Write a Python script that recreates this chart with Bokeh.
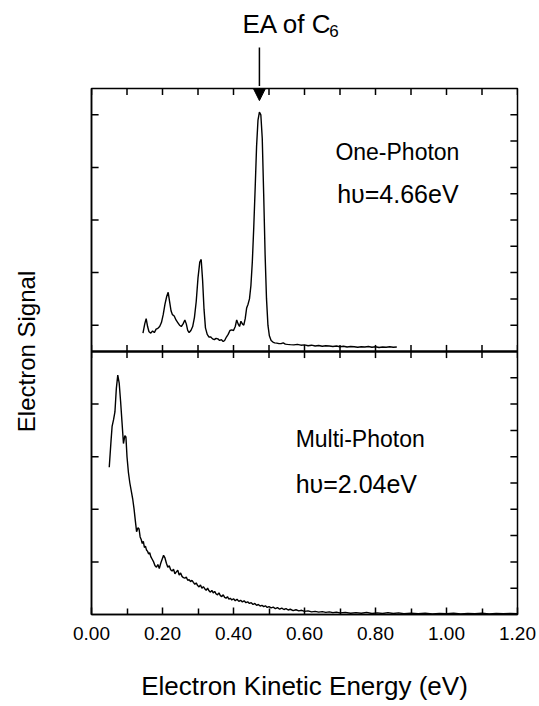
from bokeh.plotting import figure
from bokeh.layouts import column
from bokeh.models import (Range1d, FixedTicker, Span, Label, Arrow, NormalHead)
from bokeh.embed import file_html
from bokeh.resources import INLINE

# ---------------- data ----------------
# One-Photon spectrum (hv = 4.66 eV): kinetic energy (eV), signal (arb.)
one_e = [0.145, 0.150, 0.154, 0.158, 0.162, 0.167, 0.172, 0.177, 0.182, 0.187,
         0.192, 0.197, 0.202, 0.207, 0.212, 0.216, 0.220, 0.224, 0.228, 0.233,
         0.238, 0.243, 0.248, 0.253, 0.258, 0.263, 0.267, 0.271, 0.275, 0.280,
         0.285, 0.290, 0.295, 0.300, 0.305, 0.309, 0.313, 0.317, 0.321, 0.326,
         0.331, 0.336, 0.341, 0.346, 0.351, 0.356, 0.361, 0.366, 0.371, 0.375,
         0.380, 0.385, 0.390, 0.395, 0.400, 0.405, 0.409, 0.413, 0.417, 0.421,
         0.425, 0.429, 0.433, 0.437, 0.441, 0.445, 0.449, 0.453, 0.457, 0.461,
         0.465, 0.469, 0.473, 0.477, 0.481, 0.485, 0.489, 0.493, 0.497, 0.501,
         0.506, 0.511, 0.516, 0.522, 0.528, 0.534, 0.540, 0.546, 0.552, 0.560,
         0.570, 0.580, 0.590, 0.600, 0.610, 0.620, 0.630, 0.640, 0.650, 0.660,
         0.670, 0.680, 0.690, 0.700, 0.710, 0.720, 0.730, 0.740, 0.750, 0.760,
         0.770, 0.780, 0.790, 0.800, 0.810, 0.820, 0.830, 0.840, 0.850, 0.860]
one_sig = [0.70, 1.05, 1.25, 0.95, 0.75, 0.70, 0.78, 0.72, 0.85, 0.88,
           0.95, 1.10, 1.40, 1.80, 2.10, 2.25, 1.90, 1.55, 1.40, 1.35,
           1.20, 1.10, 1.00, 0.95, 1.05, 1.20, 1.05, 0.80, 0.72, 0.80,
           0.95, 1.30, 1.90, 2.80, 3.40, 3.50, 2.70, 1.60, 0.90, 0.65,
           0.55, 0.55, 0.48, 0.45, 0.50, 0.48, 0.42, 0.45, 0.38, 0.42,
           0.55, 0.65, 0.80, 0.82, 0.80, 0.95, 1.20, 1.05, 0.95, 1.15,
           1.05, 1.00, 1.25, 1.65, 1.80, 2.00, 2.50, 3.40, 4.70, 6.20,
           7.80, 8.80, 9.10, 9.00, 8.10, 6.00, 3.70, 2.00, 1.00, 0.60,
           0.42, 0.36, 0.33, 0.32, 0.30, 0.30, 0.33, 0.28, 0.27, 0.26,
           0.25, 0.27, 0.24, 0.25, 0.22, 0.24, 0.21, 0.23, 0.20, 0.22,
           0.21, 0.19, 0.21, 0.18, 0.20, 0.17, 0.19, 0.18, 0.16, 0.18,
           0.17, 0.19, 0.16, 0.18, 0.15, 0.17, 0.16, 0.18, 0.16, 0.17]

# Multi-Photon spectrum (hv = 2.04 eV)
multi_e = [0.050, 0.055, 0.058, 0.062, 0.066, 0.070, 0.074, 0.078, 0.082, 0.086,
           0.090, 0.094, 0.097, 0.100, 0.104, 0.108, 0.112, 0.116, 0.120, 0.124,
           0.127, 0.131, 0.134, 0.137, 0.140, 0.143, 0.146, 0.149, 0.152, 0.155,
           0.158, 0.161, 0.164, 0.167, 0.171, 0.175, 0.179, 0.183, 0.187, 0.191,
           0.195, 0.199, 0.203, 0.207, 0.211, 0.215, 0.219, 0.223, 0.227, 0.231,
           0.235, 0.239, 0.243, 0.247, 0.251, 0.255, 0.259, 0.263, 0.267, 0.271,
           0.275, 0.279, 0.283, 0.287, 0.291, 0.295, 0.299, 0.303, 0.307, 0.311,
           0.315, 0.319, 0.323, 0.327, 0.331, 0.335, 0.339, 0.343, 0.347, 0.351,
           0.355, 0.359, 0.363, 0.367, 0.371, 0.375, 0.379, 0.383, 0.387, 0.391,
           0.395, 0.400, 0.405, 0.410, 0.415, 0.420, 0.425, 0.430, 0.435, 0.440,
           0.445, 0.450, 0.455, 0.460, 0.465, 0.470, 0.475, 0.480, 0.485, 0.490,
           0.495, 0.500, 0.506, 0.512, 0.518, 0.524, 0.530, 0.536, 0.542, 0.548,
           0.554, 0.560, 0.568, 0.576, 0.584, 0.592, 0.600, 0.610, 0.620, 0.630,
           0.640, 0.650, 0.660, 0.670, 0.680, 0.690, 0.700, 0.715, 0.730, 0.745,
           0.760, 0.775, 0.790, 0.805, 0.820, 0.835, 0.850, 0.865, 0.880, 0.900,
           0.920, 0.940, 0.960, 0.980, 1.000, 1.020, 1.040, 1.060, 1.080, 1.100,
           1.120, 1.140, 1.160, 1.180, 1.200]
multi_sig = [5.60, 6.60, 7.15, 7.40, 7.70, 8.60, 9.10, 8.80, 8.10, 7.30,
             6.50, 6.80, 6.75, 6.00, 5.40, 5.00, 4.70, 4.40, 4.00, 3.50,
             3.15, 3.30, 3.25, 2.95, 2.85, 2.70, 2.78, 2.55, 2.60, 2.45,
             2.40, 2.30, 2.35, 2.20, 2.10, 2.00, 1.85, 1.80, 1.90, 1.75,
             1.95, 2.10, 2.25, 2.15, 1.95, 1.80, 1.85, 1.70, 1.65, 1.72,
             1.55, 1.62, 1.68, 1.50, 1.58, 1.45, 1.40, 1.38, 1.42, 1.30,
             1.33, 1.25, 1.30, 1.22, 1.15, 1.20, 1.10, 1.05, 1.12, 1.00,
             1.06, 0.98, 0.92, 1.00, 0.90, 0.85, 0.92, 0.82, 0.88, 0.78,
             0.75, 0.82, 0.72, 0.68, 0.75, 0.65, 0.62, 0.68, 0.58, 0.62,
             0.55, 0.60, 0.52, 0.58, 0.50, 0.54, 0.48, 0.52, 0.45, 0.48,
             0.42, 0.45, 0.38, 0.42, 0.35, 0.38, 0.32, 0.35, 0.30, 0.33,
             0.27, 0.30, 0.25, 0.28, 0.22, 0.26, 0.20, 0.24, 0.19, 0.22,
             0.17, 0.20, 0.15, 0.18, 0.14, 0.16, 0.12, 0.14, 0.10, 0.12,
             0.09, 0.11, 0.08, 0.10, 0.07, 0.09, 0.06, 0.08, 0.05, 0.07,
             0.05, 0.08, 0.04, 0.06, 0.04, 0.07, 0.04, 0.06, 0.03, 0.05,
             0.03, 0.05, 0.02, 0.04, 0.03, 0.05, 0.02, 0.04, 0.03, 0.05,
             0.02, 0.04, 0.03, 0.04, 0.03]

x_major_ticks = [0.0, 0.2, 0.4, 0.6, 0.8, 1.0, 1.2]
x_tick_labels = ["0.00", "0.20", "0.40", "0.60", "0.80", "1.00", "1.20"]
x_minor_ticks = [0.1, 0.3, 0.5, 0.7, 0.9, 1.1]
x_all_ticks = [0.0, 0.1, 0.2, 0.3, 0.4, 0.5, 0.6, 0.7, 0.8, 0.9, 1.0, 1.1, 1.2]
right_ticks = [1, 2, 3, 4, 5, 6, 7, 8, 9, 11, 12, 13, 14, 15, 16, 17, 18, 19]
left_ticks = [2, 4, 6, 8, 11, 13, 15, 17, 19]

ea_energy = 0.473
panel_split = 10
X_MIN, X_MAX = 0.0, 1.2
Y_MIN, Y_MAX = 0, 20

FONT = "Liberation Sans"
TICK_X = 0.02    # tick length in x data units (~7 px)
TICK_Y = 0.25    # tick length in y data units (~6.5 px)

x_range = Range1d(X_MIN, X_MAX)

# ---------------- header (title + arrow above the frame) ----------------
HEAD_H = 86
hdr = figure(width=539, height=HEAD_H, output_backend="svg", toolbar_location=None,
             x_range=x_range, y_range=Range1d(0, HEAD_H),
             x_axis_location=None, y_axis_location=None,
             min_border_left=91, min_border_right=22, min_border_top=0,
             min_border_bottom=0)
hdr.outline_line_color = None
hdr.xgrid.visible = False
hdr.ygrid.visible = False
hdr.background_fill_color = "white"
hdr.border_fill_color = "white"

hdr.add_layout(Label(x=0.425, y=HEAD_H - 23, text="EA of C", text_font=FONT,
                     text_font_size="26px", text_baseline="middle",
                     text_align="left", text_color="black"))
hdr.add_layout(Label(x=0.670, y=HEAD_H - 30, text="6", text_font=FONT,
                     text_font_size="17px", text_baseline="middle",
                     text_align="left", text_color="black"))
hdr.segment(x0=[ea_energy], x1=[ea_energy], y0=[HEAD_H - 47], y1=[0],
            line_color="black", line_width=1.5)

# ---------------- main figure ----------------
p = figure(width=539, height=706 - HEAD_H, output_backend="svg",
           toolbar_location=None,
           x_range=x_range, y_range=Range1d(Y_MIN, Y_MAX),
           min_border_left=91, min_border_right=22, min_border_top=2,
           min_border_bottom=92)
p.extra_y_ranges = {"top": Range1d(-10, 10)}
p.background_fill_color = "white"
p.border_fill_color = "white"
p.xgrid.visible = False
p.ygrid.visible = False
p.outline_line_color = "black"
p.outline_line_width = 1.5

# bottom x axis
xa = p.xaxis[0]
xa.ticker = FixedTicker(ticks=x_major_ticks, minor_ticks=x_minor_ticks)
xa.major_label_overrides = {t: l for t, l in zip(x_major_ticks, x_tick_labels)}
xa.major_tick_in = 7
xa.major_tick_out = 0
xa.minor_tick_in = 6
xa.minor_tick_out = 0
xa.major_tick_line_width = 1.5
xa.minor_tick_line_width = 1.5
xa.axis_line_width = 1.5
xa.major_label_standoff = 12
xa.major_label_text_font = FONT
xa.major_label_text_font_size = "19px"
xa.major_label_text_color = "black"
xa.axis_label = "Electron Kinetic Energy (eV)"
xa.axis_label_text_font = FONT
xa.axis_label_text_font_size = "26px"
xa.axis_label_text_font_style = "normal"
xa.axis_label_standoff = 28
xa.axis_label_text_color = "black"

# left y axis: title only, ticks drawn below
ya = p.yaxis[0]
ya.ticker = FixedTicker(ticks=[])
ya.minor_tick_line_color = None
ya.major_tick_line_color = None
ya.axis_line_width = 1.5
ya.major_label_standoff = 0
ya.axis_label = "Electron Signal"
ya.axis_label_text_font = FONT
ya.axis_label_text_font_size = "24px"
ya.axis_label_text_font_style = "normal"
ya.axis_label_text_color = "black"
ya.axis_label_standoff = 52

# inward ticks on top edge, middle divider (both sides), left and right edges
p.segment(x0=x_all_ticks, x1=x_all_ticks,
          y0=[Y_MAX] * len(x_all_ticks), y1=[Y_MAX - TICK_Y] * len(x_all_ticks),
          line_color="black", line_width=1.5)
p.segment(x0=x_all_ticks, x1=x_all_ticks,
          y0=[panel_split - TICK_Y] * len(x_all_ticks),
          y1=[panel_split + TICK_Y] * len(x_all_ticks),
          line_color="black", line_width=1.5)
p.segment(x0=[X_MIN] * len(left_ticks), x1=[X_MIN + TICK_X] * len(left_ticks),
          y0=left_ticks, y1=left_ticks, line_color="black", line_width=1.5)
p.segment(x0=[X_MAX] * len(right_ticks), x1=[X_MAX - TICK_X] * len(right_ticks),
          y0=right_ticks, y1=right_ticks, line_color="black", line_width=1.5)

p.add_layout(Span(location=panel_split, dimension="width", line_color="black",
                  line_width=2.5))

# curves
p.line(one_e, one_sig, y_range_name="top", line_color="black", line_width=1.4)
p.line(multi_e, multi_sig, line_color="black", line_width=1.4)

# annotations
def add_text(x, y, txt, size):
    p.add_layout(Label(x=x, y=y, text=txt, text_font=FONT, text_font_size=size,
                       text_baseline="middle", text_align="left",
                       text_color="black"))

add_text(0.687, 17.57, "One-Photon", "23px")
add_text(0.692, 16.0, "hυ=4.66eV", "25px")
add_text(0.575, 6.69, "Multi-Photon", "23px")
add_text(0.575, 4.98, "hυ=2.04eV", "25px")

p.add_layout(Arrow(x_start=ea_energy, y_start=Y_MAX, x_end=ea_energy, y_end=19.54,
                   line_color="black", line_width=1.5,
                   end=NormalHead(size=13, fill_color="black", line_color="black")))

layout = column(hdr, p, spacing=0)
open("out.html", "w").write(file_html(layout, INLINE))
